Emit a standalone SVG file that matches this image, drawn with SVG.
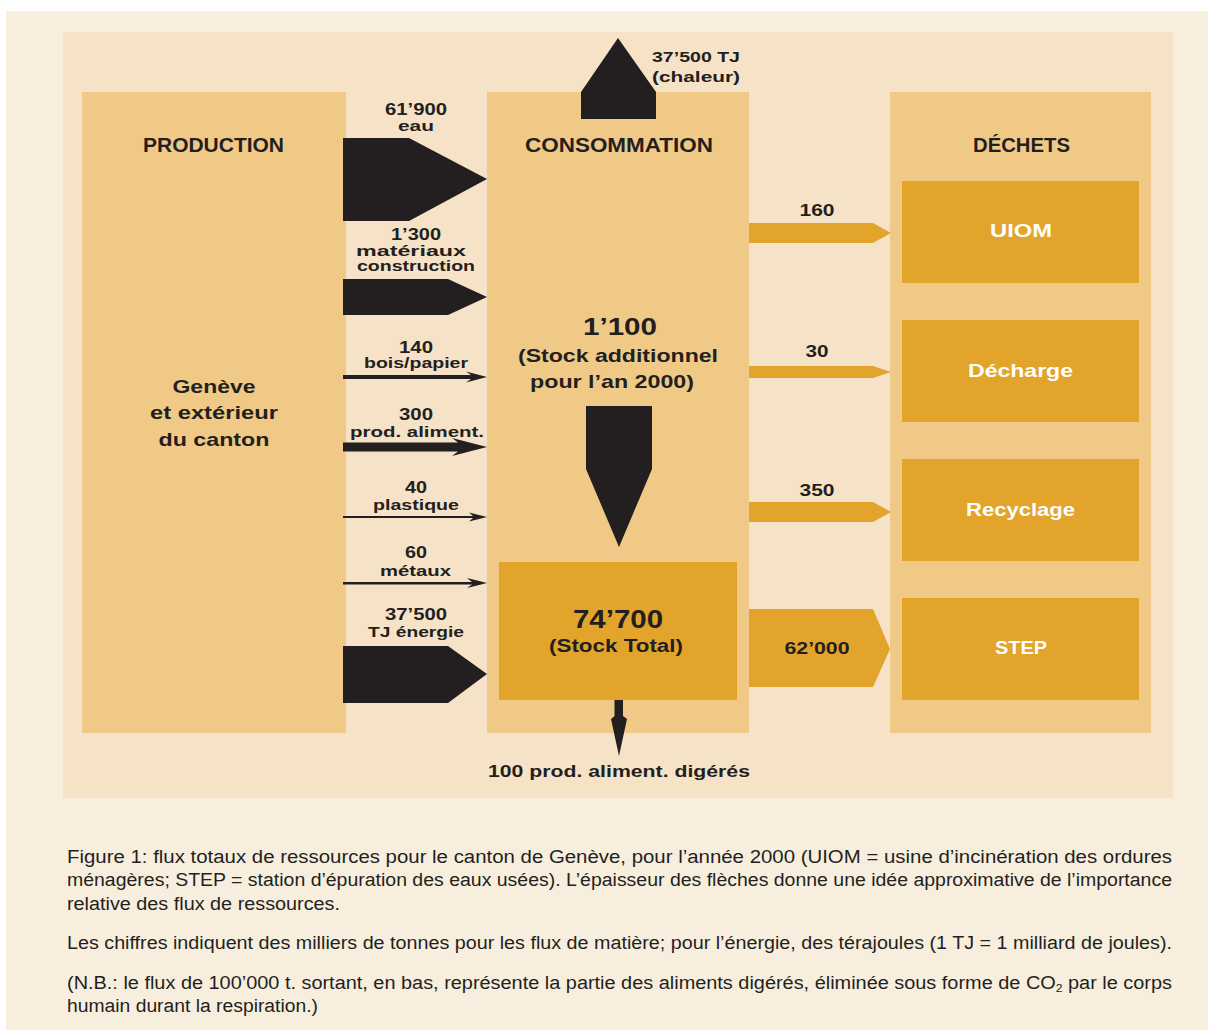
<svg xmlns="http://www.w3.org/2000/svg" width="1208" height="1030" viewBox="0 0 1208 1030">
  <style>
    .page { fill: #F8EEDE; }
    .panel { fill: #F6E2C7; }
    .zone { fill: #F0C986; }
    .gold { fill: #E2A42A; }
    .ink { fill: #231F20; }
    .t { font-family: "Liberation Sans", Arial, sans-serif; font-weight: bold; fill: #231F20; text-anchor: middle; }
    .w { fill: #FFFFFF; }
    .cap { font-family: "Liberation Sans", Arial, sans-serif; font-size: 18px; fill: #231F20; }
  </style>

  <!-- page and figure panel -->
  <rect x="0" y="0" width="1208" height="1030" fill="#FFFFFF"/>
  <rect class="page" x="6" y="11" width="1202" height="1019"/>
  <rect class="panel" x="63" y="32" width="1110" height="766"/>

  <!-- PRODUCTION -->
  <g id="production">
    <rect class="zone" x="82" y="92" width="264" height="641"/>
    <text class="t" x="213.5" y="152" font-size="20" textLength="141" lengthAdjust="spacingAndGlyphs">PRODUCTION</text>
    <text class="t" x="214" y="393" font-size="19" textLength="83" lengthAdjust="spacingAndGlyphs">Genève</text>
    <text class="t" x="214" y="419" font-size="19" textLength="128" lengthAdjust="spacingAndGlyphs">et extérieur</text>
    <text class="t" x="214" y="446" font-size="19" textLength="111" lengthAdjust="spacingAndGlyphs">du canton</text>
  </g>

  <!-- CONSOMMATION -->
  <g id="consommation">
    <rect class="zone" x="487" y="92" width="262" height="641"/>
    <text class="t" x="619" y="152" font-size="20" textLength="188" lengthAdjust="spacingAndGlyphs">CONSOMMATION</text>
    <text class="t" x="620" y="335" font-size="24" textLength="74" lengthAdjust="spacingAndGlyphs">1’100</text>
    <text class="t" x="618" y="362" font-size="19" textLength="200" lengthAdjust="spacingAndGlyphs">(Stock additionnel</text>
    <text class="t" x="612" y="388" font-size="19" textLength="164" lengthAdjust="spacingAndGlyphs">pour l’an 2000)</text>
  </g>

  <!-- Stock total -->
  <g id="stock-total">
    <rect class="gold" x="499" y="562" width="238" height="138"/>
    <text class="t" x="618" y="628" font-size="26" textLength="90" lengthAdjust="spacingAndGlyphs">74’700</text>
    <text class="t" x="616" y="652" font-size="18" textLength="134" lengthAdjust="spacingAndGlyphs">(Stock Total)</text>
  </g>

  <!-- DÉCHETS -->
  <g id="dechets">
    <rect class="zone" x="890" y="92" width="261" height="641"/>
    <text class="t" x="1021.5" y="152" font-size="20" textLength="97" lengthAdjust="spacingAndGlyphs">DÉCHETS</text>
  </g>
  <g id="uiom">
    <rect class="gold" x="902" y="181" width="237" height="102"/>
    <text class="t w" x="1021" y="237" font-size="19" textLength="62" lengthAdjust="spacingAndGlyphs">UIOM</text>
  </g>
  <g id="decharge">
    <rect class="gold" x="902" y="320" width="237" height="102"/>
    <text class="t w" x="1020.5" y="377" font-size="19" textLength="105" lengthAdjust="spacingAndGlyphs">Décharge</text>
  </g>
  <g id="recyclage">
    <rect class="gold" x="902" y="459" width="237" height="102"/>
    <text class="t w" x="1020.5" y="516" font-size="19" textLength="109" lengthAdjust="spacingAndGlyphs">Recyclage</text>
  </g>
  <g id="step">
    <rect class="gold" x="902" y="598" width="237" height="102"/>
    <text class="t w" x="1021" y="654" font-size="19" textLength="52" lengthAdjust="spacingAndGlyphs">STEP</text>
  </g>

  <!-- flows -->
  <g id="connectors">
    <!-- inputs -->
    <path class="ink" d="M343,138 H409 L487,179 L409,221 H343 Z"/>
    <path class="ink" d="M343,279 H448 L487,297 L448,315 H343 Z"/>
    <path class="ink" d="M343,375 H471 L466,371.5 L487,377 L466,382.5 L471,379 H343 Z"/>
    <path class="ink" d="M343,442.5 H458 L452,438 L487,447 L452,456 L458,451.5 H343 Z"/>
    <path class="ink" d="M343,516 H473 L469,512.5 L487,517 L469,521.5 L473,518 H343 Z"/>
    <path class="ink" d="M343,582 H472 L467,578 L487,583 L467,588 L472,584.5 H343 Z"/>
    <path class="ink" d="M343,646 H448 L487,674 L448,703 H343 Z"/>
    <!-- heat out, stock growth, digestion out -->
    <path class="ink" d="M581,119 V92 L618,38 L656,92 V119 Z"/>
    <path class="ink" d="M586,406 H652 V469 L619,547 L586,469 Z"/>
    <path class="ink" d="M614.5,700 H623 V716 L627,719 L619,756 L611,719 L614.5,716 Z"/>
    <!-- outputs to waste -->
    <path class="gold" d="M749,223 H873 L891,233 L873,243 H749 Z"/>
    <path class="gold" d="M749,366 H873 L891,372 L873,378 H749 Z"/>
    <path class="gold" d="M749,502 H873 L891,512 L873,522 H749 Z"/>
    <path class="gold" d="M749,609 H873 L890,649 L873,687 H749 Z"/>
  </g>

  <!-- flow labels -->
  <g id="flow-labels">
    <text class="t" x="416" y="115" font-size="16" textLength="62" lengthAdjust="spacingAndGlyphs">61’900</text>
    <text class="t" x="416" y="131" font-size="15" textLength="36" lengthAdjust="spacingAndGlyphs">eau</text>
    <text class="t" x="416" y="240" font-size="16" textLength="50" lengthAdjust="spacingAndGlyphs">1’300</text>
    <text class="t" x="411" y="256" font-size="15" textLength="110" lengthAdjust="spacingAndGlyphs">matériaux</text>
    <text class="t" x="416" y="271" font-size="15" textLength="118" lengthAdjust="spacingAndGlyphs">construction</text>
    <text class="t" x="416" y="353" font-size="16" textLength="34" lengthAdjust="spacingAndGlyphs">140</text>
    <text class="t" x="416" y="368" font-size="15" textLength="104" lengthAdjust="spacingAndGlyphs">bois/papier</text>
    <text class="t" x="416" y="420" font-size="16" textLength="34" lengthAdjust="spacingAndGlyphs">300</text>
    <text class="t" x="417" y="437" font-size="15" textLength="134" lengthAdjust="spacingAndGlyphs">prod. aliment.</text>
    <text class="t" x="416" y="493" font-size="16" textLength="22" lengthAdjust="spacingAndGlyphs">40</text>
    <text class="t" x="416" y="510" font-size="15" textLength="86" lengthAdjust="spacingAndGlyphs">plastique</text>
    <text class="t" x="416" y="558" font-size="16" textLength="22" lengthAdjust="spacingAndGlyphs">60</text>
    <text class="t" x="415.5" y="576" font-size="15" textLength="71" lengthAdjust="spacingAndGlyphs">métaux</text>
    <text class="t" x="416" y="620" font-size="16" textLength="62" lengthAdjust="spacingAndGlyphs">37’500</text>
    <text class="t" x="416" y="637" font-size="15" textLength="96" lengthAdjust="spacingAndGlyphs">TJ énergie</text>

    <text class="t" x="696" y="62" font-size="15" textLength="88" lengthAdjust="spacingAndGlyphs">37’500 TJ</text>
    <text class="t" x="696" y="82" font-size="15" textLength="88" lengthAdjust="spacingAndGlyphs">(chaleur)</text>

    <text class="t" x="817" y="216" font-size="16" textLength="35" lengthAdjust="spacingAndGlyphs">160</text>
    <text class="t" x="817" y="357" font-size="16" textLength="23" lengthAdjust="spacingAndGlyphs">30</text>
    <text class="t" x="817" y="496" font-size="16" textLength="35" lengthAdjust="spacingAndGlyphs">350</text>
    <text class="t" x="817" y="654" font-size="16" textLength="65" lengthAdjust="spacingAndGlyphs">62’000</text>

    <text class="t" x="619" y="777" font-size="17" textLength="262" lengthAdjust="spacingAndGlyphs">100 prod. aliment. digérés</text>
  </g>

  <!-- caption -->
  <g id="caption">
    <text class="cap" x="67" y="863" textLength="1105" lengthAdjust="spacingAndGlyphs">Figure 1: flux totaux de ressources pour le canton de Genève, pour l’année 2000 (UIOM = usine d’incinération des ordures</text>
    <text class="cap" x="67" y="886" textLength="1105" lengthAdjust="spacingAndGlyphs">ménagères; STEP = station d’épuration des eaux usées). L’épaisseur des flèches donne une idée approximative de l’importance</text>
    <text class="cap" x="67" y="910" textLength="273" lengthAdjust="spacingAndGlyphs">relative des flux de ressources.</text>
    <text class="cap" x="67" y="949" textLength="1105" lengthAdjust="spacingAndGlyphs">Les chiffres indiquent des milliers de tonnes pour les flux de matière; pour l’énergie, des térajoules (1 TJ = 1 milliard de joules).</text>
    <text class="cap" x="67" y="989" textLength="1105" lengthAdjust="spacingAndGlyphs">(N.B.: le flux de 100’000 t. sortant, en bas, représente la partie des aliments digérés, éliminée sous forme de CO<tspan font-size="11" dy="3">2</tspan><tspan dy="-3"> par le corps</tspan></text>
    <text class="cap" x="67" y="1012" textLength="251" lengthAdjust="spacingAndGlyphs">humain durant la respiration.)</text>
  </g>
</svg>
